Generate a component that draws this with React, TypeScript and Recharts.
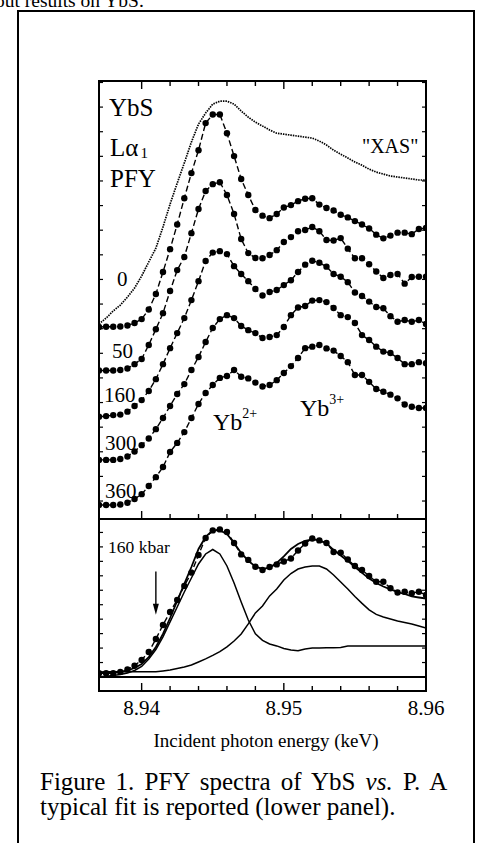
import React from "react";
import { ComposedChart, Line, XAxis, YAxis, ReferenceLine } from "recharts";

const FONT = "'Liberation Serif', 'Times New Roman', Times, serif";

// incident photon energy (keV), one point per measured step
const energy = [
  8.937, 8.9375, 8.938, 8.9385, 8.939, 8.9395, 8.94, 8.9405, 8.941, 8.9415,
  8.942, 8.9425, 8.943, 8.9435, 8.944, 8.9445, 8.945, 8.9455, 8.946, 8.9465,
  8.947, 8.9475, 8.948, 8.9485, 8.949, 8.9495, 8.95, 8.9505, 8.951, 8.9515,
  8.952, 8.9525, 8.953, 8.9535, 8.954, 8.9545, 8.955, 8.9555, 8.956, 8.9565,
  8.957, 8.9575, 8.958, 8.9585, 8.959, 8.9595, 8.96,
];

// upper panel: offset spectra (arb. units)
const xas = [
  7.19, 7.43, 7.72, 7.96, 8.28, 8.65, 9.14, 9.71, 10.27, 11.13,
  12.06, 12.91, 13.73, 14.58, 15.31, 15.76, 16.12, 16.24, 16.24, 16.12,
  15.84, 15.59, 15.39, 15.23, 15.07, 14.94, 14.9, 14.86, 14.82, 14.78,
  14.74, 14.62, 14.46, 14.25, 14.09, 13.93, 13.77, 13.64, 13.48, 13.36,
  13.28, 13.2, 13.16, 13.12, 13.08, 13.04, 13.04,
];
const pfy0 = [
  7.07, 7.08, 7.08, 7.09, 7.13, 7.23, 7.39, 7.78, 8.41, 9.3,
  10.23, 11.23, 12.3, 13.32, 14.25, 15.35, 15.7, 15.7, 14.94, 14.01,
  13.08, 12.43, 11.82, 11.59, 11.49, 11.66, 11.92, 12.02, 12.18, 12.28,
  12.3, 12.04, 11.9, 11.8, 11.63, 11.52, 11.37, 11.23, 11.07, 10.82,
  10.67, 10.78, 10.9, 10.9, 10.84, 11.05, 11.09,
];
const pfy50 = [
  5.3, 5.3, 5.3, 5.32, 5.38, 5.56, 5.77, 6.34, 6.98, 7.63,
  8.53, 9.38, 9.91, 10.88, 11.86, 12.59, 12.87, 12.95, 12.43, 11.66,
  10.64, 10.07, 9.87, 9.86, 9.99, 10.19, 10.52, 10.72, 10.96, 11.01,
  11.13, 10.96, 10.6, 10.58, 10.68, 10.25, 9.86, 9.86, 9.62, 9.32,
  9.06, 9.18, 9.22, 8.83, 9.1, 9.11, 9.11,
];
const pfy160 = [
  3.42, 3.45, 3.49, 3.51, 3.63, 3.86, 4.1, 4.47, 4.95, 5.56,
  6.21, 6.82, 7.43, 8.16, 8.93, 9.75, 10.09, 10.15, 10.03, 9.54,
  9.22, 8.93, 8.61, 8.35, 8.49, 8.57, 8.77, 8.97, 9.3, 9.6,
  9.76, 9.68, 9.52, 9.22, 9.11, 8.89, 8.47, 8.33, 8.1, 7.88,
  7.83, 7.51, 7.28, 7.35, 7.28, 7.35, 7.19,
];
const pfy300 = [
  1.67, 1.67, 1.67, 1.71, 1.81, 2.01, 2.27, 2.54, 2.92, 3.37,
  3.86, 4.35, 4.75, 5.32, 5.85, 6.46, 7.03, 7.39, 7.55, 7.43,
  7.11, 6.94, 6.82, 6.62, 6.66, 6.74, 7.07, 7.55, 7.86, 7.92,
  8.14, 8.16, 8.08, 7.84, 7.55, 7.47, 7.23, 6.74, 6.54, 6.27,
  6.07, 6.01, 5.81, 5.56, 5.56, 5.64, 5.6,
];
const pfy360 = [
  -0.16, -0.16, -0.16, -0.14, -0.07, 0.08, 0.28, 0.61, 0.97, 1.38,
  1.99, 2.36, 2.8, 3.37, 3.94, 4.39, 4.71, 5.0, 5.08, 5.32,
  5.05, 4.98, 4.81, 4.65, 4.71, 4.91, 5.2, 5.48, 5.81, 6.21,
  6.27, 6.34, 6.2, 6.11, 5.89, 5.64, 5.12, 5.12, 4.84, 4.55,
  4.44, 4.32, 4.17, 3.92, 3.83, 3.78, 3.78,
];

// lower panel: 160 kbar spectrum and its fit
const fitData160 = [
  0.26, 0.26, 0.26, 0.35, 0.52, 0.78, 1.18, 1.73, 2.63, 3.6,
  4.5, 5.33, 6.3, 7.22, 8.44, 9.62, 10.14, 10.21, 10.03, 9.27,
  8.48, 8.1, 7.63, 7.4, 7.61, 7.79, 7.99, 8.2, 8.75, 9.24,
  9.58, 9.45, 9.27, 8.65, 8.6, 8.13, 7.68, 7.4, 6.99, 6.59,
  6.59, 6.14, 5.85, 5.9, 5.79, 5.9, 5.67,
];
const fitTotal = [
  0.28, 0.28, 0.31, 0.35, 0.45, 0.62, 0.9, 1.38, 2.08, 2.98,
  4.08, 5.26, 6.44, 7.61, 8.86, 9.69, 10.14, 10.14, 9.9, 9.27,
  8.58, 8.03, 7.65, 7.47, 7.58, 7.89, 8.34, 8.86, 9.2, 9.41,
  9.52, 9.45, 9.24, 8.79, 8.41, 8.03, 7.61, 7.2, 6.82, 6.5,
  6.26, 6.06, 5.88, 5.74, 5.57, 5.5, 5.43,
];
const fitYb2 = [
  0.03, 0.05, 0.1, 0.17, 0.28, 0.45, 0.73, 1.25, 1.9, 2.77,
  3.81, 4.84, 5.88, 6.85, 7.82, 8.51, 8.82, 8.51, 7.68, 6.5,
  5.19, 3.94, 2.98, 2.53, 2.28, 2.15, 1.97, 1.87, 1.82, 1.94,
  2.01, 2.01, 2.02, 2.03, 2.04, 2.15, 2.15, 2.15, 2.15, 2.15,
  2.15, 2.15, 2.15, 2.15, 2.15, 2.15, 2.15,
];
const fitYb3 = [
  0.35, 0.37, 0.37, 0.37, 0.37, 0.37, 0.37, 0.37, 0.37, 0.42,
  0.48, 0.59, 0.69, 0.83, 1.04, 1.25, 1.49, 1.75, 2.08, 2.49,
  2.98, 3.67, 4.43, 4.91, 5.61, 6.09, 6.71, 7.16, 7.47, 7.61,
  7.68, 7.68, 7.47, 7.06, 6.57, 6.09, 5.57, 5.09, 4.64, 4.33,
  4.15, 4.01, 3.88, 3.77, 3.67, 3.53, 3.39,
];

const xTicks = [8.94, 8.942, 8.944, 8.946, 8.948, 8.95, 8.952, 8.954, 8.956, 8.958, 8.96];
const upperYTicks = [0, 1, 2, 3, 4, 5, 6, 7, 8, 9, 10, 11, 12, 13, 14, 15, 16, 17];
const lowerYTicks = [0, 1, 2, 3, 4, 5, 6, 7, 8, 9, 10];
const arrowEnergy = 8.941;
const arrowFrom = 7.3;
const arrowTo = 4.3;

const upperRows = energy.map((e, i) => ({
  e,
  xas: xas[i],
  p0: pfy0[i],
  p50: pfy50[i],
  p160: pfy160[i],
  p300: pfy300[i],
  p360: pfy360[i],
}));
const lowerRows = energy.map((e, i) => ({
  e,
  data: fitData160[i],
  total: fitTotal[i],
  yb2: fitYb2[i],
  yb3: fitYb3[i],
}));

const PLOT_W = 327;
const UPPER_H = 438;

const isMajor = (v: number) => Math.abs(v * 100 - Math.round(v * 100)) < 1e-6;

// inward ticks on bottom (and optionally top) edge, labels only on majors
const makeXTick = (drawTop: boolean, labels: boolean) => (props: any) => {
  const { x, y, payload } = props;
  const v = payload.value as number;
  const len = isMajor(v) ? 8 : 5;
  return (
    <g>
      <line x1={x} x2={x} y1={y} y2={y - len} stroke="#000" strokeWidth={1.4} />
      {drawTop && (
        <line x1={x} x2={x} y1={y - UPPER_H} y2={y - UPPER_H + len} stroke="#000" strokeWidth={1.4} />
      )}
      {labels && isMajor(v) && (
        <text x={x} y={y + 24} textAnchor="middle" fontFamily={FONT} fontSize={21} fill="#000">
          {v.toFixed(2)}
        </text>
      )}
    </g>
  );
};

// inward ticks on left and right edges
const yTick = (props: any) => {
  const { x, y } = props;
  return (
    <g>
      <line x1={x} x2={x + 4} y1={y} y2={y} stroke="#000" strokeWidth={1.2} />
      <line x1={x + PLOT_W} x2={x + PLOT_W - 4} y1={y} y2={y} stroke="#000" strokeWidth={1.2} />
    </g>
  );
};

const arrowShape = (props: any) => {
  const { x1, y1, x2, y2 } = props;
  return (
    <g>
      <line x1={x1} y1={y1} x2={x2} y2={y2 - 8} stroke="#000" strokeWidth={1.4} />
      <path d={`M${x2 - 3},${y2 - 11} L${x2 + 3},${y2 - 11} L${x2},${y2} Z`} fill="#000" />
    </g>
  );
};

const dotStyle = { r: 3.2, fill: "#000", stroke: "none" };

export default function App() {
  return (
    <div
      style={{
        position: "absolute",
        left: 0,
        top: 0,
        width: 478,
        height: 843,
        overflow: "hidden",
        background: "#fff",
      }}
    >
      <div style={{ position: "absolute", left: 79, top: 71 }}>
        <ComposedChart
          width={369}
          height={458}
          data={upperRows}
          margin={{ top: 10, right: 22, bottom: 9, left: 19 }}
        >
          <XAxis
            dataKey="e"
            type="number"
            domain={[8.937, 8.96]}
            allowDataOverflow
            ticks={xTicks}
            interval={0}
            height={1}
            tickSize={0}
            tickMargin={0}
            axisLine={false}
            tickLine={false}
            tick={makeXTick(true, false)}
          />
          <YAxis
            type="number"
            domain={[-0.73, 17.06]}
            allowDataOverflow
            ticks={upperYTicks}
            interval={0}
            width={1}
            tickSize={0}
            tickMargin={0}
            axisLine={false}
            tickLine={false}
            tick={yTick}
          />
          <Line
            dataKey="xas"
            type="linear"
            stroke="#000"
            strokeWidth={1.7}
            strokeDasharray="1.5 1"
            dot={false}
            isAnimationActive={false}
          />
          {["p0", "p50", "p160", "p300", "p360"].map((k) => (
            <Line
              key={k}
              dataKey={k}
              type="linear"
              stroke="#000"
              strokeWidth={1.4}
              strokeDasharray="6 3"
              dot={dotStyle}
              isAnimationActive={false}
            />
          ))}
        </ComposedChart>
      </div>

      <div style={{ position: "absolute", left: 79, top: 509 }}>
        <ComposedChart
          width={369}
          height={242}
          data={lowerRows}
          margin={{ top: 10, right: 22, bottom: 59, left: 19 }}
        >
          <XAxis
            dataKey="e"
            type="number"
            domain={[8.937, 8.96]}
            allowDataOverflow
            ticks={xTicks}
            interval={0}
            height={1}
            tickSize={0}
            tickMargin={0}
            axisLine={false}
            tickLine={false}
            tick={makeXTick(false, true)}
          />
          <YAxis
            type="number"
            domain={[-0.97, 10.93]}
            allowDataOverflow
            ticks={lowerYTicks}
            interval={0}
            width={1}
            tickSize={0}
            tickMargin={0}
            axisLine={false}
            tickLine={false}
            tick={yTick}
          />
          <ReferenceLine y={0} stroke="#000" strokeWidth={1.8} />
          <ReferenceLine
            segment={[
              { x: arrowEnergy, y: arrowFrom },
              { x: arrowEnergy, y: arrowTo },
            ]}
            shape={arrowShape}
          />
          <Line dataKey="yb2" type="linear" stroke="#000" strokeWidth={1.5} dot={false} isAnimationActive={false} />
          <Line dataKey="yb3" type="linear" stroke="#000" strokeWidth={1.5} dot={false} isAnimationActive={false} />
          <Line dataKey="total" type="linear" stroke="#000" strokeWidth={1.8} dot={false} isAnimationActive={false} />
          <Line
            dataKey="data"
            type="linear"
            stroke="#000"
            strokeWidth={1.4}
            strokeDasharray="6 3"
            dot={dotStyle}
            isAnimationActive={false}
          />
        </ComposedChart>
      </div>

      {/* figure frame and plot boxes */}
      <div
        style={{
          position: "absolute",
          left: 17,
          top: 10,
          width: 458,
          height: 900,
          border: "2px solid #000",
          boxSizing: "border-box",
        }}
      />
      <div
        style={{
          position: "absolute",
          left: 98,
          top: 80,
          width: 329,
          height: 612,
          border: "2px solid #000",
          boxSizing: "border-box",
        }}
      />
      <div style={{ position: "absolute", left: 98, top: 518, width: 329, height: 2, background: "#000" }} />

      <svg
        width={478}
        height={843}
        style={{ position: "absolute", left: 0, top: 0, pointerEvents: "none" }}
        fontFamily={FONT}
        fill="#000"
      >
        <text x={-5} y={7} fontSize={19.5}>out results on YbS.</text>

        <text x={109} y={116} fontSize={25}>YbS</text>
        <text x={110} y={156} fontSize={25}>
          Lα<tspan fontSize={15} dx={2} dy={2}>1</tspan>
        </text>
        <text x={110} y={187} fontSize={25}>PFY</text>
        <text x={362} y={153} fontSize={20}>"XAS"</text>

        <text x={117} y={286} fontSize={21}>0</text>
        <text x={112} y={358} fontSize={21}>50</text>
        <text x={104} y={402} fontSize={21}>160</text>
        <text x={105} y={450} fontSize={21}>300</text>
        <text x={105} y={498} fontSize={21}>360</text>

        <text x={213} y={430} fontSize={24}>
          Yb<tspan fontSize={14} dy={-12}>2+</tspan>
        </text>
        <text x={300} y={416} fontSize={24}>
          Yb<tspan fontSize={14} dy={-12}>3+</tspan>
        </text>

        <text x={108} y={553} fontSize={17.5}>160 kbar</text>

        <text x={266} y={747} fontSize={19} textAnchor="middle">
          Incident photon energy (keV)
        </text>

        <text x={40} y={790} fontSize={25} style={{ wordSpacing: "4px" }}>
          Figure 1. PFY spectra of YbS <tspan fontStyle="italic">vs.</tspan> P. A
        </text>
        <text x={40} y={815} fontSize={25}>
          typical fit is reported (lower panel).
        </text>
      </svg>
    </div>
  );
}
